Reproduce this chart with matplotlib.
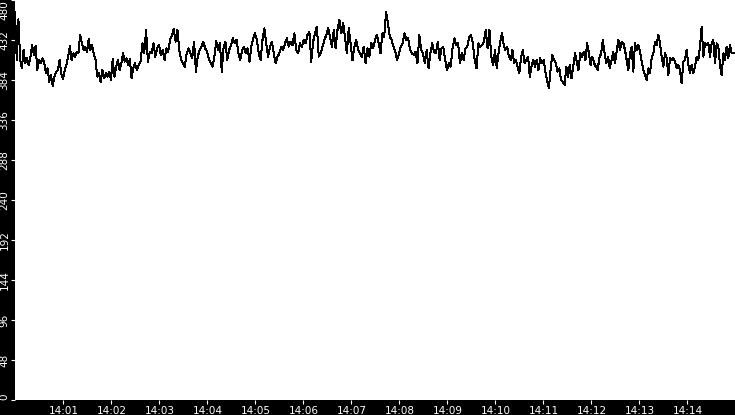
import numpy as np
import matplotlib
matplotlib.use("Agg")
import matplotlib.pyplot as plt
import matplotlib.dates as mdates

block_starts = ["2024-01-01T13:59:59.4", "2024-01-01T14:02:29.4", "2024-01-01T14:04:59.4",
                "2024-01-01T14:07:29.4", "2024-01-01T14:09:59.4", "2024-01-01T14:12:29.4"]
block_len_s = 150
t_end = "2024-01-01T14:14:59.4"

vals_1 = [466, 408, 457, 408, 398, 420, 404, 410, 402, 412, 426, 414, 425, 396, 408, 404,
          410, 406, 392, 398, 382, 390, 377, 388, 394, 396, 408, 392, 385, 396, 402, 412,
          425, 408, 416, 412, 418, 416, 438, 428, 420, 424, 418, 433, 420, 426, 414, 408,
          388, 392, 381, 396, 386, 392, 388, 394, 384, 409, 388, 400, 408, 396, 404, 416,
          406, 410, 402, 409, 386, 398]
vals_2 = [404, 396, 402, 406, 428, 416, 444, 406, 418, 416, 428, 412, 422, 426, 414, 420,
          408, 422, 418, 432, 438, 445, 430, 444, 420, 408, 404, 400, 416, 422, 416, 410,
          430, 394, 412, 420, 424, 430, 422, 418, 410, 404, 400, 412, 431, 420, 428, 394,
          424, 430, 408, 420, 426, 434, 428, 432, 416, 408, 420, 424, 416, 422, 406, 424,
          434]
vals_3 = [440, 432, 416, 408, 432, 446, 428, 412, 424, 430, 416, 404, 412, 416, 424, 420,
          428, 434, 424, 430, 426, 440, 420, 416, 428, 424, 432, 428, 438, 442, 406, 430,
          440, 448, 412, 416, 424, 432, 438, 446, 436, 424, 444, 422, 444, 456, 440, 452,
          436, 416, 446, 428, 408, 424, 432, 420, 416, 412, 424, 404, 422, 412, 428, 422]
vals_4 = [432, 438, 428, 416, 440, 436, 466, 452, 436, 432, 424, 418, 408, 416, 424, 428,
          440, 432, 434, 420, 416, 414, 418, 404, 438, 420, 416, 404, 420, 398, 416, 428,
          418, 416, 430, 408, 422, 424, 408, 396, 404, 400, 422, 434, 426, 428, 404, 416,
          408, 422, 424, 436, 438, 428, 408, 398, 428, 424, 426, 430, 444, 422, 444, 412,
          402]
vals_5 = [420, 398, 416, 430, 440, 426, 420, 424, 412, 408, 420, 404, 408, 400, 392, 412,
          420, 404, 408, 412, 388, 400, 408, 400, 408, 396, 410, 404, 408, 394, 382, 374,
          398, 414, 408, 404, 394, 398, 384, 382, 378, 400, 388, 402, 386, 400, 416, 406,
          396, 416, 412, 418, 408, 428, 416, 402, 412, 404, 400, 396, 410, 416, 432, 416,
          404, 412, 398, 408, 418]
vals_6 = [404, 418, 432, 420, 430, 428, 420, 408, 396, 416, 424, 394, 428, 420, 426, 418,
          406, 396, 390, 384, 398, 392, 410, 416, 430, 426, 438, 428, 412, 400, 416, 410,
          390, 410, 408, 410, 406, 398, 402, 396, 380, 406, 408, 420, 402, 392, 402, 392,
          400, 412, 408, 424, 448, 412, 428, 426, 428, 412, 428, 432, 404, 428, 424, 402,
          390, 416, 408, 424, 410, 426, 416, 416]

blocks = [vals_1, vals_2, vals_3, vals_4, vals_5, vals_6]

x_tick_times = ["2024-01-01T14:%02d" % m for m in range(1, 15)]
y_ticks = np.arange(0, 481, 48)

times = []
values = []
for start, vals in zip(block_starts, blocks):
    t0 = np.datetime64(start, "ms")
    offs = np.linspace(0, block_len_s * 1000, len(vals), endpoint=False).astype("timedelta64[ms]")
    times.append(t0 + offs)
    values.append(vals)
times = np.concatenate(times + [np.array([np.datetime64(t_end, "ms")])])
values = np.concatenate(values + [[416]])

fig = plt.figure(figsize=(7.35, 4.15), dpi=100, facecolor="black")
ax = fig.add_axes([15 / 735, 15 / 415, 720 / 735, 400 / 415])
ax.set_facecolor("white")

ax.plot(times.astype(object), values, color="black", lw=0.72, antialiased=False)

ax.set_ylim(0, 480)
ax.set_xlim(np.datetime64(block_starts[0], "ms").astype(object),
            np.datetime64(t_end, "ms").astype(object))
ax.set_yticks(y_ticks)
ax.set_yticklabels([str(v) for v in y_ticks], rotation=90, va="center")
ax.set_xticks([np.datetime64(t, "ms").astype(object) for t in x_tick_times])
ax.xaxis.set_major_formatter(mdates.DateFormatter("%H:%M"))

for s in ax.spines.values():
    s.set_visible(False)
ax.tick_params(colors="white", labelcolor="white", labelsize=7.5, length=3, width=0.8,
               direction="out")
ax.tick_params(axis="y", pad=1)
ax.tick_params(axis="x", pad=1)

ylabels = ax.get_yticklabels()
ylabels[0].set_va("bottom")
ylabels[-1].set_va("top")

fig.savefig("out.png", dpi=100, facecolor="black")
